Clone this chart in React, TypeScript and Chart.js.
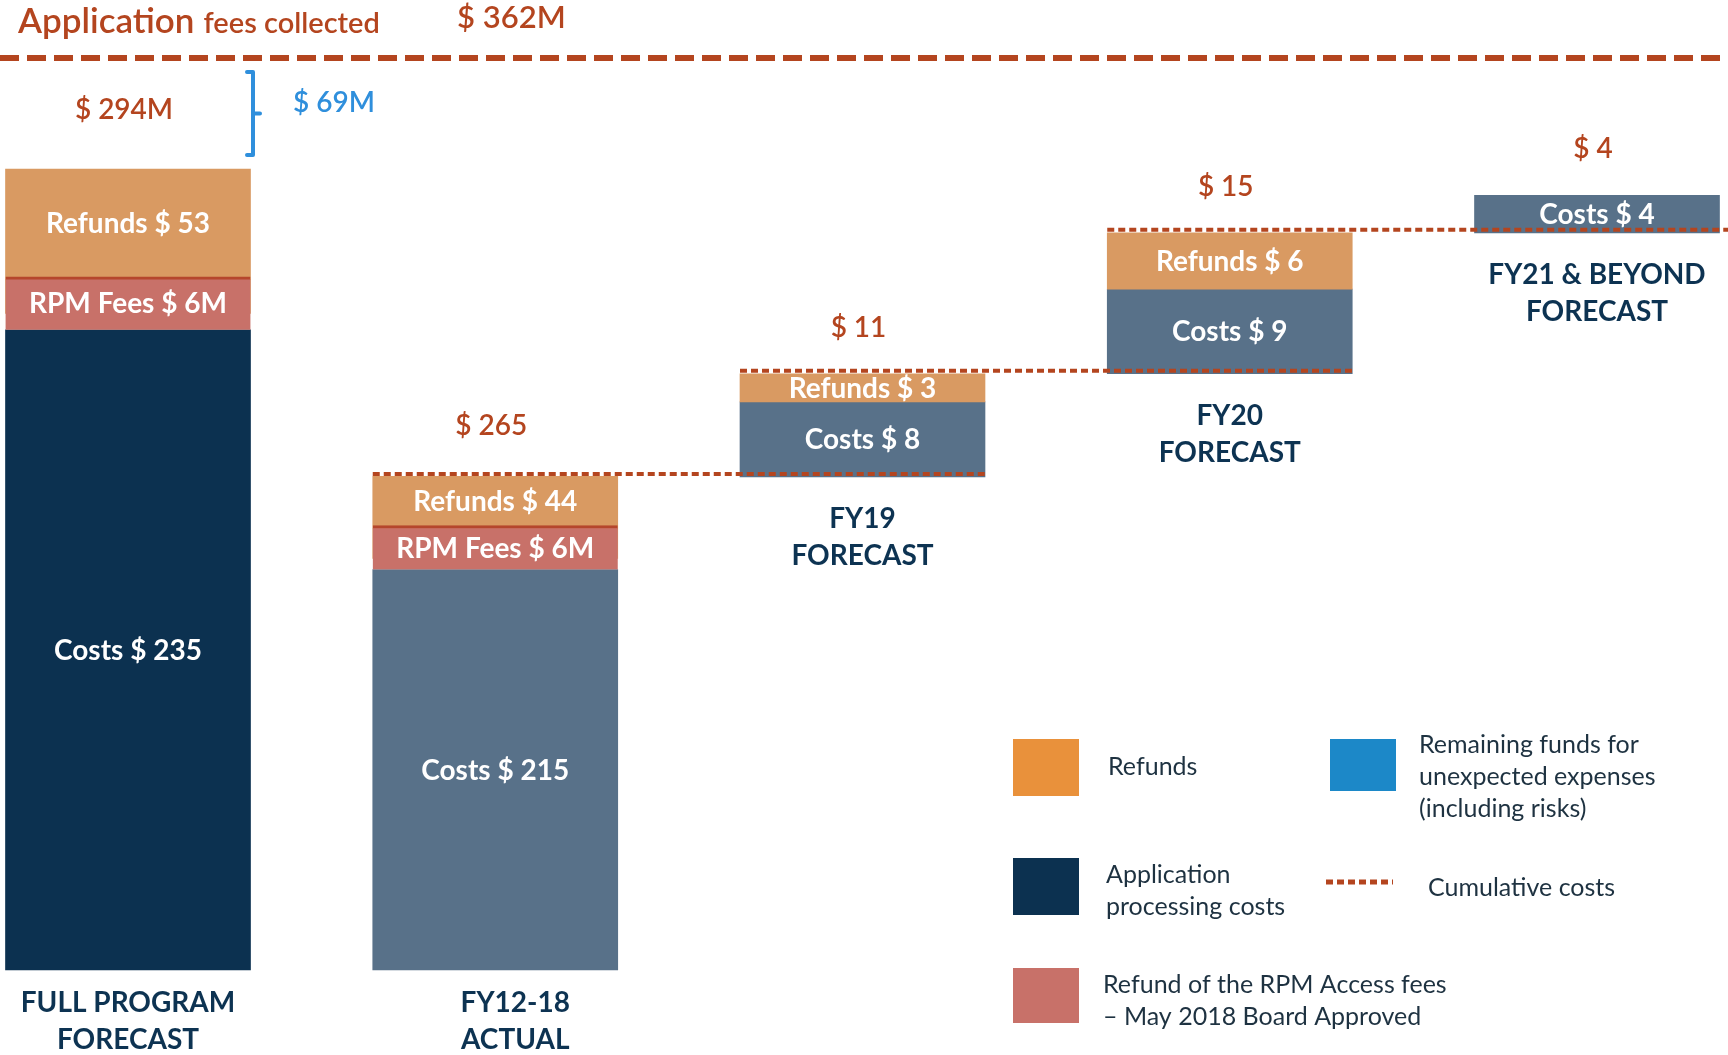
import React, { useEffect, useRef } from "react";
import { Chart, registerables } from "chart.js";

Chart.register(...registerables);

// ---------------- data ----------------
const categoryLines = [
  ["FULL PROGRAM", "FORECAST"],
  ["FY12-18", "ACTUAL"],
  ["FY19", "FORECAST"],
  ["FY20", "FORECAST"],
  ["FY21 & BEYOND", "FORECAST"],
];
const barKinds = ["total", "actual", "forecast", "forecast", "forecast"];
const costs = [235, 215, 8, 9, 4];
const rpmFees = [6, 6, null, null, null];
const refunds = [53, 44, 3, 6, null];
const feesCollected = 362;
const remainingFunds = 69;

// ---------------- derived ----------------
const totals = costs.map((c, i) => c + (rpmFees[i] ?? 0) + (refunds[i] ?? 0));
const starts: number[] = [];
{
  let running = 0;
  barKinds.forEach((k, i) => {
    if (k === "forecast") {
      starts.push(running);
      running += totals[i];
    } else {
      starts.push(0);
      if (k === "actual") running = totals[i];
    }
  });
}

const segments = [
  { key: "costs", title: "Costs", unit: "", values: costs },
  { key: "rpm", title: "RPM Fees", unit: "M", values: rpmFees },
  { key: "refunds", title: "Refunds", unit: "", values: refunds },
];

const ranges: (number[] | null)[][] = segments.map(() => []);
barKinds.forEach((_, i) => {
  let lo = starts[i];
  segments.forEach((seg, si) => {
    const v = seg.values[i];
    if (v == null) {
      ranges[si][i] = null;
    } else {
      ranges[si][i] = [lo, lo + v];
      lo += v;
    }
  });
});

const axisFor: Record<string, string> = { total: "yFull", actual: "yActual", forecast: "yFcst" };
const rpmMinLength: Record<string, number> = { yFull: 53, yActual: 44, yFcst: 40 };

const RUST = "#b4451f";
const BLUE = "#2f8fdc";
const NAVY = "#0c3150";
const SLATE = "#587189";
const REFUND = "#d99a62";
const RPM = "#c87169";
const LABEL_NAVY = "#0d3352";
const LEGEND_TEXT = "#1e3241";
const FONT = "Lato, 'Noto Sans', sans-serif";

function segColor(key: string, kind: string) {
  if (key === "costs") return kind === "total" ? NAVY : SLATE;
  if (key === "rpm") return RPM;
  return REFUND;
}

const datasets: any[] = [];
["yFull", "yActual", "yFcst"].forEach((axis) => {
  segments.forEach((seg, si) => {
    const data = barKinds.map((k, i) => (axisFor[k] === axis ? ranges[si][i] : null));
    if (data.every((d) => d === null)) return;
    datasets.push({
      label: seg.title,
      segKey: seg.key,
      data,
      xAxisID: "x",
      yAxisID: axis,
      backgroundColor: barKinds.map((k) => segColor(seg.key, k)),
      order: seg.key === "rpm" ? 0 : seg.key === "refunds" ? 1 : 2,
      minBarLength: seg.key === "rpm" ? rpmMinLength[axis] : 0,
      borderWidth: seg.key === "rpm" ? { top: 3, right: 0, bottom: 0, left: 0 } : 0,
      borderColor: "#b5462c",
      borderSkipped: false,
      barThickness: 245,
      grouped: false,
      clip: false,
    });
  });
});

// ---------------- drawing helpers ----------------
function txt(ctx: CanvasRenderingContext2D, s: string, x: number, y: number, font: string, color: string, align: CanvasTextAlign = "center", baseline: CanvasTextBaseline = "middle") {
  ctx.save();
  ctx.font = font;
  ctx.fillStyle = color;
  ctx.textAlign = align;
  ctx.textBaseline = baseline;
  ctx.fillText(s, x, y);
  ctx.restore();
}

function hLine(ctx: CanvasRenderingContext2D, x1: number, x2: number, y: number, width: number, dash: number[], color: string) {
  ctx.save();
  ctx.strokeStyle = color;
  ctx.lineWidth = width;
  ctx.setLineDash(dash);
  ctx.beginPath();
  ctx.moveTo(x1, y);
  ctx.lineTo(x2, y);
  ctx.stroke();
  ctx.restore();
}

const segOrder = ["costs", "rpm", "refunds"];

const annotatePlugin = {
  id: "annotate",
  afterDatasetsDraw(chart: any) {
    const ctx: CanvasRenderingContext2D = chart.ctx;
    const yF = chart.scales.yFcst;
    const tops: number[] = [];
    const bottoms: number[] = [];
    const lefts: number[] = [];
    const rights: number[] = [];

    barKinds.forEach((kind, i) => {
      const elems: any[] = [];
      chart.data.datasets.forEach((ds: any, di: number) => {
        if (ds.data[i] == null) return;
        const el = chart.getDatasetMeta(di).data[i];
        const p = el.getProps(["x", "y", "base", "width"], true);
        elems.push({ seg: ds.segKey, ...p });
      });
      elems.sort((a, b) => segOrder.indexOf(a.seg) - segOrder.indexOf(b.seg));
      let prevTop: number | null = null;
      elems.forEach((e) => {
        const visBottom = prevTop == null ? e.base : Math.min(e.base, prevTop);
        const seg = segments.find((s) => s.key === e.seg)!;
        const v = seg.values[i];
        txt(ctx, `${seg.title} $ ${v}${seg.unit}`, e.x, (e.y + visBottom) / 2 + 1, `bold 28px ${FONT}`, "#ffffff");
        prevTop = e.y;
      });
      const top = Math.min(...elems.map((e) => e.y));
      const bottom = Math.max(...elems.map((e) => e.base));
      const cx = elems[0].x;
      const w = elems[0].width;
      tops.push(top);
      bottoms.push(bottom);
      lefts.push(cx - w / 2);
      rights.push(cx + w / 2);

      // totals above bars
      const gap = kind === "total" ? 59 : kind === "actual" ? 50 : 46;
      txt(ctx, `$ ${totals[i]}${kind === "total" ? "M" : ""}`, cx - 4, top - gap, `600 28px ${FONT}`, RUST);

      // category labels
      const lgap = kind === "forecast" ? 42 : 33;
      categoryLines[i].forEach((line, li) => {
        txt(ctx, line, cx + (kind === "actual" ? 20 : 0), bottom + lgap + li * 37, `bold 28px ${FONT}`, LABEL_NAVY);
      });
    });

    // cumulative cost dotted lines
    barKinds.forEach((kind, i) => {
      if (kind === "total" || i === barKinds.length - 1) return;
      const level = starts[i] + totals[i];
      const y = yF.getPixelForValue(level) - 3;
      const x2 = i + 1 === barKinds.length - 1 ? chart.width : rights[i + 1];
      hLine(ctx, lefts[i], x2, y, 4, [7, 4], RUST);
    });

    // header: fees collected
    const headerY = 58;
    hLine(ctx, 0, chart.width, headerY, 6, [19, 8], RUST);
    ctx.save();
    ctx.font = `600 35px ${FONT}`;
    const wApp = ctx.measureText("Application").width;
    ctx.restore();
    txt(ctx, "Application", 18, 33, `600 35px ${FONT}`, RUST, "left", "alphabetic");
    txt(ctx, "fees collected", 18 + wApp + 9, 33, `600 29px ${FONT}`, RUST, "left", "alphabetic");
    txt(ctx, `$ ${feesCollected}M`, 457, 28, `600 31px ${FONT}`, RUST, "left", "alphabetic");

    // remaining funds bracket
    const bx = rights[0] + 2.5;
    const bTop = headerY + 14;
    const bBot = tops[0] - 14;
    const bMid = (bTop + bBot) / 2;
    ctx.save();
    ctx.strokeStyle = BLUE;
    ctx.lineWidth = 4;
    ctx.lineJoin = "round";
    ctx.lineCap = "round";
    ctx.beginPath();
    ctx.moveTo(bx - 6, bTop);
    ctx.lineTo(bx, bTop);
    ctx.lineTo(bx, bBot);
    ctx.lineTo(bx - 6, bBot);
    ctx.moveTo(bx, bMid);
    ctx.lineTo(bx + 7, bMid);
    ctx.stroke();
    ctx.restore();
    txt(ctx, `$ ${remainingFunds}M`, bx + 40, bMid - 11, `600 28px ${FONT}`, BLUE, "left");

    // legend
    const lf = `400 25px ${FONT}`;
    const box = (x: number, y: number, w: number, h: number, c: string) => {
      ctx.save();
      ctx.fillStyle = c;
      ctx.fillRect(x, y, w, h);
      ctx.restore();
    };
    box(1013, 739, 66, 57, "#e9913b");
    txt(ctx, "Refunds", 1108, 767, lf, LEGEND_TEXT, "left");
    box(1330, 739, 66, 52, "#1c88c8");
    ["Remaining funds for", "unexpected expenses", "(including risks)"].forEach((s, k) =>
      txt(ctx, s, 1419, 745 + k * 32, lf, LEGEND_TEXT, "left")
    );
    box(1013, 858, 66, 57, NAVY);
    ["Application", "processing costs"].forEach((s, k) => txt(ctx, s, 1106, 875 + k * 32, lf, LEGEND_TEXT, "left"));
    hLine(ctx, 1326, 1393, 882, 5, [7, 4], RUST);
    txt(ctx, "Cumulative costs", 1428, 888, lf, LEGEND_TEXT, "left");
    box(1013, 968, 66, 55, RPM);
    ["Refund of the RPM Access fees", "\u2013 May 2018 Board Approved"].forEach((s, k) =>
      txt(ctx, s, 1103, 985 + k * 32, lf, LEGEND_TEXT, "left")
    );
  },
};

export default function App() {
  const canvasRef = useRef<HTMLCanvasElement | null>(null);

  useEffect(() => {
    const canvas = canvasRef.current;
    if (!canvas) return;
    const chart = new Chart(canvas, {
      type: "bar",
      data: {
        labels: categoryLines.map((l) => l.join(" ")),
        datasets,
      },
      options: {
        responsive: false,
        animation: false,
        devicePixelRatio: 1,
        events: [],
        layout: { padding: { left: 128, right: 131, top: 169, bottom: 85 } },
        plugins: { legend: { display: false }, tooltip: { enabled: false }, title: { display: false } },
        scales: {
          x: { type: "category", offset: false, display: false, grid: { display: false } },
          yFull: { type: "linear", axis: "y", position: "left", min: 0, max: totals[0], display: false },
          yActual: { type: "linear", axis: "y", position: "left", min: 0, max: 430, display: false },
          yFcst: { type: "linear", axis: "y", position: "left", min: 212.5, max: 297.8, display: false },
        },
      } as any,
      plugins: [annotatePlugin],
    });
    return () => chart.destroy();
  }, []);

  return (
    <div style={{ position: "fixed", left: 0, top: 0, width: 1728, height: 1055, background: "#ffffff" }}>
      <canvas ref={canvasRef} width={1728} height={1055} style={{ display: "block" }} />
    </div>
  );
}
